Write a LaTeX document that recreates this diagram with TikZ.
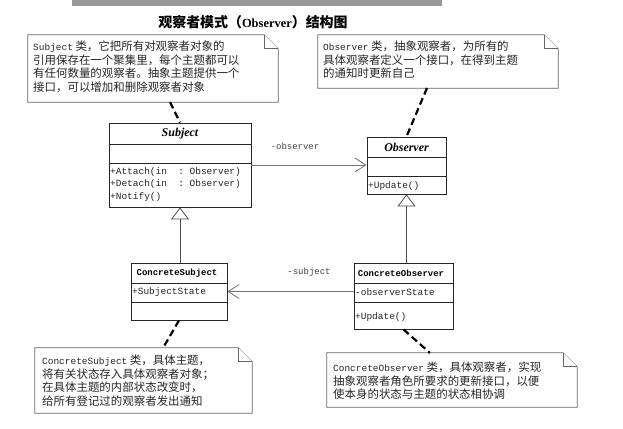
\documentclass[tikz,border=0pt]{standalone}
\usepackage{fontspec}
\setmainfont{Liberation Serif}
\newfontfamily\cjk{Noto Sans CJK SC}
\newfontfamily\monof{Liberation Mono}
\usetikzlibrary{arrows.meta}
\newcommand\lt[1]{{\monof\fontsize{9.5}{13.5}\selectfont #1}}
\newcommand\drawnote[1]{%
  \draw[notebdr] (#1.north west) -- ([xshift=-14bp]#1.north east) -- ([yshift=-14bp]#1.north east)
    -- (#1.south east) -- (#1.south west) -- cycle;
  \draw[notebdr] ([xshift=-14bp]#1.north east) -- ([xshift=-14bp,yshift=-14bp]#1.north east)
    -- ([yshift=-14bp]#1.north east);}
\begin{document}
\begin{tikzpicture}[x=1bp,y=-1bp,
  classbox/.style={draw=black!85, line width=0.8bp, inner sep=0, fill=white},
  member/.style={font=\monof\fontsize{9.5}{11}\selectfont, anchor=west, inner sep=0, text=black!85},
  cname/.style={font=\monof\bfseries\fontsize{9}{11}\selectfont, inner sep=0},
  aname/.style={font=\rmfamily\bfseries\itshape\fontsize{12}{14}\selectfont, inner sep=0},
  notebg/.style={inner sep=0},
  notebdr/.style={draw=black!60, line width=0.8bp, fill=white},
  notetext/.style={font=\cjk\fontsize{11.5}{13.5}\selectfont, align=left, anchor=north west, inner sep=0, text=black!85},
  assoc/.style={draw=black!55, line width=0.8bp, -{Straight Barb[length=11bp,width=14bp,line width=0.8bp]}},
  gen/.style={draw=black!70, line width=0.8bp, -{Triangle[open,length=12bp,width=18bp,line width=0.8bp]}},
  notelink/.style={line width=2.2bp, dash pattern=on 7bp off 4bp},
  lbl/.style={font=\monof\fontsize{9}{11}\selectfont, inner sep=0, text=black!75}]
\useasboundingbox (0,0) rectangle (623,428);
\fill[white] (0,0) rectangle (623,428);
\fill[black!40] (72,0) rectangle (442,6);
\node[font=\cjk\bfseries\fontsize{14}{16}\selectfont, inner sep=0] (title) at (253,22)
  {观察者模式（{\rmfamily\bfseries\fontsize{12.5}{14}\selectfont Observer}）结构图};

% notes
\node[notebg, minimum width=250bp, minimum height=67bp] (n1) at (153,68.5) {};
\node[notebg, minimum width=240bp, minimum height=53bp] (n2) at (438,61.5) {};
\node[notebg, minimum width=217bp, minimum height=65bp] (n3) at (143.5,380.5) {};
\node[notebg, minimum width=250bp, minimum height=54bp] (n4) at (452,380) {};
\drawnote{n1}\drawnote{n2}\drawnote{n3}\drawnote{n4}
\node[notetext] (t1) at (33,41) {\lt{Subject} 类，它把所有对观察者对象的\\引用保存在一个聚集里，每个主题都可以\\有任何数量的观察者。抽象主题提供一个\\接口，可以增加和删除观察者对象};
\node[notetext] (t2) at (323,41) {\lt{Observer} 类，抽象观察者，为所有的\\具体观察者定义一个接口，在得到主题\\的通知时更新自己};
\node[notetext] (t3) at (42,355) {\lt{ConcreteSubject} 类，具体主题，\\将有关状态存入具体观察者对象；\\在具体主题的内部状态改变时，\\给所有登记过的观察者发出通知};
\node[notetext] (t4) at (333,362) {\lt{ConcreteObserver} 类，具体观察者，实现\\抽象观察者角色所要求的更新接口，以便\\使本身的状态与主题的状态相协调};

% classes
\node[classbox, minimum width=142bp, minimum height=84bp] (subj) at (180,165) {};
\node[classbox, minimum width=79bp, minimum height=57bp] (obs) at (406.5,165.5) {};
\node[classbox, minimum width=96bp, minimum height=57bp] (cs) at (179,291.5) {};
\node[classbox, minimum width=99bp, minimum height=66bp] (co) at (403.5,296) {};
\draw[black!85, line width=0.8bp] (subj.west |- 0,144) -- (subj.east |- 0,144);
\draw[black!85, line width=0.8bp] (subj.west |- 0,163) -- (subj.east |- 0,163);
\draw[black!85, line width=0.8bp] (obs.west |- 0,157) -- (obs.east |- 0,157);
\draw[black!85, line width=0.8bp] (obs.west |- 0,176) -- (obs.east |- 0,176);
\draw[black!85, line width=0.8bp] (cs.west |- 0,283) -- (cs.east |- 0,283);
\draw[black!85, line width=0.8bp] (cs.west |- 0,302) -- (cs.east |- 0,302);
\draw[black!85, line width=0.8bp] (co.west |- 0,283) -- (co.east |- 0,283);
\draw[black!85, line width=0.8bp] (co.west |- 0,302) -- (co.east |- 0,302);

\node[aname] (subjn) at (180,133.5) {Subject};
\node[aname] (obsn) at (406.5,147) {Observer};
\node[cname] (csn) at (177,273) {ConcreteSubject};
\node[cname] (con) at (401,273) {ConcreteObserver};
\node[member] (m1) at (110,172) {+Attach(in\ \ :\ Observer)};
\node[member] (m2) at (110,184.5) {+Detach(in\ \ :\ Observer)};
\node[member] (m3) at (110,197) {+Notify()};
\node[member] (m4) at (368,186) {+Update()};
\node[member] (m5) at (132,292) {+SubjectState};
\node[member] (m6) at (355,292) {-observerState};
\node[member] (m7) at (355,317) {+Update()};

% connectors
\draw[assoc] (subj.east) -- (subj.east -| obs.west);
\node[lbl] (l1) at (295,146) {-observer};
\draw[assoc] (co.west |- cs.east) -- (cs.east);
\node[lbl] (l2) at (309,272) {-subject};
\draw[gen] (cs.north -| subj.south) -- (subj.south);
\draw[gen] (co.north -| obs.south) -- (obs.south);

% note links
\coordinate (d1) at (170,102);
\coordinate (d2) at (427,88);
\coordinate (d3) at (163,348);
\coordinate (d4) at (430,353);
\draw[notelink] (d1) -- (subj.north);
\draw[notelink] (d2) -- (obs.north);
\draw[notelink] (cs.south) -- (d3);
\draw[notelink] (co.south) -- (d4);
\end{tikzpicture}
\end{document}
